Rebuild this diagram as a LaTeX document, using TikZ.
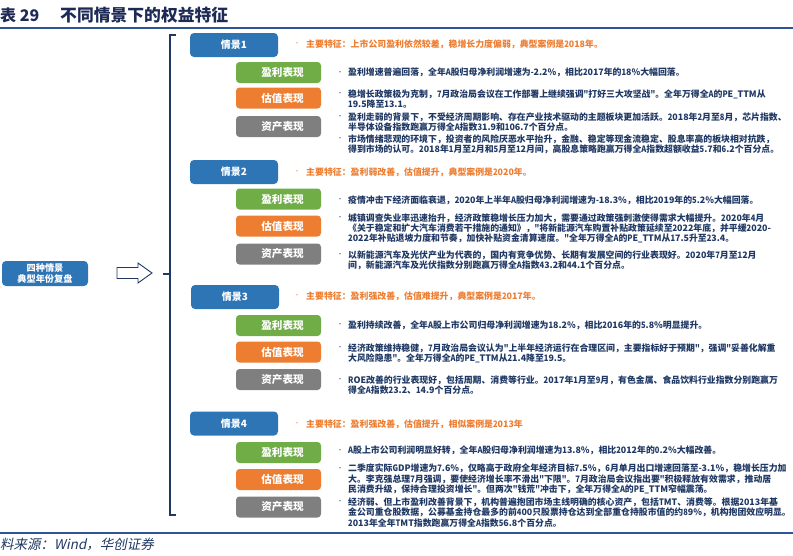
\documentclass[tikz,border=0pt]{standalone}
\usepackage{fontspec}
\setmainfont{Noto Sans CJK SC}
\newfontfamily\srcfont[FakeSlant=0.2]{Noto Sans CJK SC}
\newfontfamily\cjkf{Noto Sans CJK SC}
\newfontfamily\latinf[FakeStretch=0.85]{Noto Sans CJK SC}
\newXeTeXintercharclass\LatCls
\makeatletter
\count@=33
\loop
  \XeTeXcharclass\count@=\LatCls
  \ifnum\count@<126 \advance\count@ 1
\repeat
\makeatother
\XeTeXinterchartoks 0 \LatCls = {\latinf}
\XeTeXinterchartoks 1 \LatCls = {\latinf}
\XeTeXinterchartoks 2 \LatCls = {\latinf}
\XeTeXinterchartoks 3 \LatCls = {\latinf}
\XeTeXinterchartoks 4095 \LatCls = {\latinf}
\XeTeXinterchartoks \LatCls 0 = {\cjkf}
\XeTeXinterchartoks \LatCls 1 = {\cjkf}
\XeTeXinterchartoks \LatCls 2 = {\cjkf}
\XeTeXinterchartoks \LatCls 3 = {\cjkf}
\XeTeXinterchartoks \LatCls 4095 = {\cjkf}
\newcommand\latnarrow{\XeTeXinterchartokenstate=1\relax}
\definecolor{cblue}{HTML}{2E75B6}
\definecolor{cgreen}{HTML}{70AD47}
\definecolor{corange}{HTML}{ED7D31}
\definecolor{cgray}{HTML}{7F7F7F}
\definecolor{cnavy}{HTML}{1F3864}
\definecolor{cline}{HTML}{2F5597}
\definecolor{ctitle}{HTML}{1C2A55}
\begin{document}
\begin{tikzpicture}[x=1pt,y=-1pt,
  scen/.style={fill=cblue, rounded corners=4pt, minimum width=88pt, minimum height=24pt, inner sep=0pt, text=white, font=\bfseries\fontsize{10}{11}\selectfont},
  subbox/.style={rounded corners=3.5pt, minimum width=85pt, minimum height=21pt, inner sep=0pt, text=white, font=\bfseries\fontsize{10.6}{11}\selectfont},
  gbox/.style={subbox, fill=cgreen},
  obox/.style={subbox, fill=corange},
  ybox/.style={subbox, fill=cgray},
  feat/.style={anchor=west, inner sep=0pt, text=corange, font=\bfseries\fontsize{8.9}{10}\selectfont\latnarrow},
  body/.style={anchor=west, inner sep=0pt, align=left, text=cnavy, font=\bfseries\fontsize{8.88}{10.3}\selectfont\latnarrow},
  fdot/.style={inner sep=0pt, text=corange, font=\fontsize{6}{6}\selectfont},
  bdot/.style={inner sep=0pt, text=cnavy, font=\fontsize{6}{6}\selectfont},
  brk/.style={draw=cnavy, line width=1.1pt}
]
\useasboundingbox (0,0) rectangle (793,555);

% title
\node[anchor=west, inner sep=0pt, text=ctitle, font=\bfseries\fontsize{16}{17}\selectfont] (tnum) at (0,15) {表\ 29};
\node[anchor=west, inner sep=0pt, text=ctitle, font=\bfseries\fontsize{16.8}{17}\selectfont] (ttl) at (60,15) {不同情景下的权益特征};
\draw[cline, line width=2.5pt] (0,28) -- (793,28);
\draw[cline, line width=1.5pt] (0,533) -- (793,533);
\node[anchor=west, inner sep=0pt, text=cnavy, font=\srcfont\fontsize{13.5}{14}\selectfont] (src) at (0,545) {料来源：Wind，华创证券};

% left box and arrow
\node[fill=cblue, rounded corners=4pt, minimum width=86pt, minimum height=25pt, inner sep=0pt, text=white, align=center, font=\bfseries\fontsize{9.2}{11}\selectfont] (main) at (45,273.5) {四种情景\\典型年份复盘};
\draw[draw=cnavy, fill=white, line width=0.9pt] (117,267.5) -- (138,267.5) -- (138,263) -- (152,273) -- (138,283) -- (138,278.5) -- (117,278.5) -- cycle;
\coordinate (bt) at (176,35);
\coordinate (bb) at (176,515);
\coordinate (bm) at (163,274);
\draw[brk] (bt) -- (170,35) -- (170,515) -- (bb);
\draw[brk] (bm) -- (170,274);

% scenario boxes
\node[scen] (s1) at (234,45) {情景1};
\node[scen] (s2) at (234,172) {情景2};
\node[scen] (s3) at (235,297) {情景3};
\node[scen] (s4) at (234,423.5) {情景4};

\node[gbox] (g1) at (278.5,72.5) {\hspace{8pt}盈利表现};
\node[obox] (o1) at (278.5,98) {\hspace{8pt}估值表现};
\node[ybox] (y1) at (278.5,126.5) {\hspace{8pt}资产表现};
\node[gbox] (g2) at (278.5,199) {\hspace{8pt}盈利表现};
\node[obox] (o2) at (278.5,226) {\hspace{8pt}估值表现};
\node[ybox] (y2) at (278.5,254) {\hspace{8pt}资产表现};
\node[gbox] (g3) at (278.5,325.5) {\hspace{8pt}盈利表现};
\node[obox] (o3) at (278.5,352) {\hspace{8pt}估值表现};
\node[ybox] (y3) at (278.5,379.5) {\hspace{8pt}资产表现};
\node[gbox] (g4) at (278.5,452.5) {\hspace{8pt}盈利表现};
\node[obox] (o4) at (278.5,479.5) {\hspace{8pt}估值表现};
\node[ybox] (y4) at (278.5,507) {\hspace{8pt}资产表现};

% feature lines
\node[fdot] (fd1) at (297,44) {•};
\node[feat] (f1) at (306,44) {主要特征：上市公司盈利依然较差，稳增长力度偏弱，典型案例是2018年。};
\node[fdot] (fd2) at (297,172) {•};
\node[feat] (f2) at (306,172) {主要特征：盈利弱改善，估值提升，典型案例是2020年。};
\node[fdot] (fd3) at (297,296) {•};
\node[feat] (f3) at (306,296) {主要特征：盈利强改善，估值难提升，典型案例是2017年。};
\node[fdot] (fd4) at (297,424) {•};
\node[feat] (f4) at (306,424) {主要特征：盈利强改善，估值提升，相似案例是2013年};

% section 1
\node[bdot] (d1a) at (340,72.7) {•};
\node[body] (t1a) at (348,72.7) {盈利增速普遍回落，全年A股归母净利润增速为-2.2\%，相比2017年的18\%大幅回落。};
\node[bdot] (d1b) at (340,94) {•};
\node[body] (t1b) at (348,98.8) {稳增长政策极为克制，7月政治局会议在工作部署上继续强调"打好三大攻坚战"。全年万得全A的PE\_TTM从\\19.5降至13.1。};
\node[bdot] (d1c) at (340,117) {•};
\node[body] (t1c) at (348,122) {盈利走弱的背景下，不受经济周期影响、存在产业技术驱动的主题板块更加活跃。2018年2月至8月，芯片指数、\\半导体设备指数跑赢万得全A指数31.9和106.7个百分点。};
\node[bdot] (d1d) at (340,139) {•};
\node[body] (t1d) at (348,144) {市场情绪悲观的环境下，投资者的风险厌恶水平抬升，金融、稳定等现金流稳定、股息率高的板块相对抗跌，\\得到市场的认可。2018年1月至2月和5月至12月间，高股息策略跑赢万得全A指数超额收益5.7和6.2个百分点。};

% section 2
\node[bdot] (d2a) at (340,200) {•};
\node[body] (t2a) at (348,200) {疫情冲击下经济面临衰退，2020年上半年A股归母净利润增速为-18.3\%，相比2019年的5.2\%大幅回落。};
\node[bdot] (d2b) at (340,218) {•};
\node[body] (t2b) at (348,228.5) {城镇调查失业率迅速抬升，经济政策稳增长压力加大，需要通过政策强刺激使得需求大幅提升。2020年4月\\《关于稳定和扩大汽车消费若干措施的通知》，"将新能源汽车购置补贴政策延续至2022年底，并平缓2020-\\2022年补贴退坡力度和节奏，加快补贴资金清算速度。"全年万得全A的PE\_TTM从17.5升至23.4。};
\node[bdot] (d2c) at (340,255.3) {•};
\node[body] (t2c) at (348,260.3) {以新能源汽车及光伏产业为代表的，国内有竞争优势、长期有发展空间的行业表现好。2020年7月至12月\\间，新能源汽车及光伏指数分别跑赢万得全A指数43.2和44.1个百分点。};

% section 3
\node[bdot] (d3a) at (340,325) {•};
\node[body] (t3a) at (348,325) {盈利持续改善，全年A股上市公司归母净利润增速为18.2\%，相比2016年的5.8\%明显提升。};
\node[bdot] (d3b) at (340,348.3) {•};
\node[body] (t3b) at (348,353.7) {经济政策维持稳健，7月政治局会议认为"上半年经济运行在合理区间，主要指标好于预期"，强调"妥善化解重\\大风险隐患"。全年万得全A的PE\_TTM从21.4降至19.5。};
\node[bdot] (d3c) at (340,380) {•};
\node[body] (t3c) at (348,385) {ROE改善的行业表现好，包括周期、消费等行业。2017年1月至9月，有色金属、食品饮料行业指数分别跑赢万\\得全A指数23.2、14.9个百分点。};

% section 4
\node[bdot] (d4a) at (340,450.7) {•};
\node[body] (t4a) at (348,450.7) {A股上市公司利润明显好转，全年A股归母净利润增速为13.8\%，相比2012年的0.2\%大幅改善。};
\node[bdot] (d4b) at (340,468.7) {•};
\node[body] (t4b) at (348,479) {二季度实际GDP增速为7.6\%，仅略高于政府全年经济目标7.5\%，6月单月出口增速回落至-3.1\%，稳增长压力加\\大。李克强总理7月强调，要使经济增长率不滑出"下限"。7月政治局会议指出要"积极释放有效需求，推动居\\民消费升级，保持合理投资增长"。但两次"钱荒"冲击下，全年万得全A的PE\_TTM窄幅震荡。};
\node[bdot] (d4c) at (340,501.7) {•};
\node[body] (t4c) at (348,512.3) {经济弱、但上市盈利改善背景下，机构普遍抱团市场主线明确的核心资产，包括TMT、消费等。根据2013年基\\金公司重仓股数据，公募基金持仓最多的前400只股票持仓达到全部重仓持股市值的约89\%，机构抱团效应明显。\\2013年全年TMT指数跑赢万得全A指数56.8个百分点。};
\end{tikzpicture}
\end{document}
